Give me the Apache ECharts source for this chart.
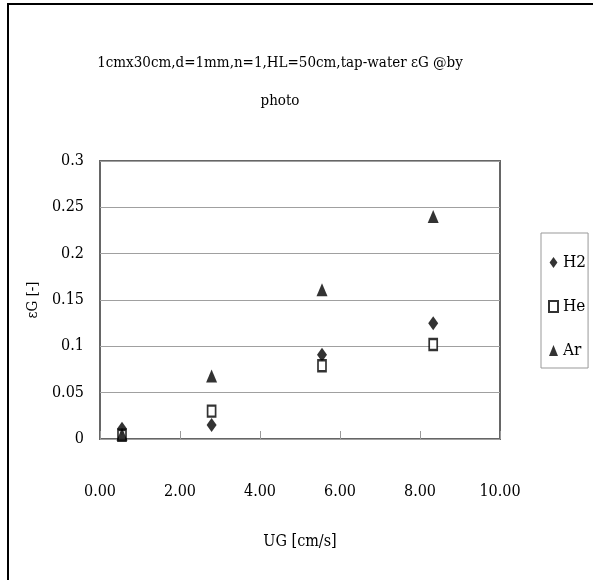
<!DOCTYPE html>
<html>
<head>
<meta charset="utf-8">
<script src="https://cdn.jsdelivr.net/npm/echarts@6/dist/echarts.min.js"></script>
<style>html,body{margin:0;padding:0;background:#fff}#c{width:593px;height:580px}</style>
</head>
<body>
<div id="c"></div>
<script>
const titleText = '1cmx30cm,d=1mm,n=1,HL=50cm,tap-water εG @by\nphoto';
const xName = 'UG [cm/s]';
const yName = 'εG [-]';
const xTicks = [0, 2, 4, 6, 8, 10];
const yTicks = [0, 0.05, 0.1, 0.15, 0.2, 0.25, 0.3];
const ugValues = [0.55, 2.79, 5.55, 8.33];
const h2Values = [0.011, 0.015, 0.091, 0.125];
const heValues = [0.004, 0.030, 0.079, 0.102];
const arValues = [0.005, 0.068, 0.161, 0.240];

const FONT = 'DejaVu Serif Condensed';
const chart = echarts.init(document.getElementById('c'));
const pair = (xs, ys) => xs.map((x, i) => [x, ys[i]]);
const diamond = 'path://M5,0 L10,7 L5,14 L0,7 Z';
const tri = 'path://M5,0 L10,12 L0,12 Z';

chart.setOption({
  animation: false,
  backgroundColor: '#fff',
  title: {
    text: titleText, top: 39, left: 275, textAlign: 'center',
    textStyle: { fontFamily: FONT, fontWeight: 'normal', fontSize: 15, color: '#000', lineHeight: 38 }
  },
  legend: {
    orient: 'vertical', left: 541, top: 233,
    padding: [21, 2, 9, 7], itemGap: 27, itemWidth: 9, itemHeight: 11,
    borderColor: '#999', borderWidth: 1,
    textStyle: { fontFamily: FONT, fontSize: 17, color: '#000', padding: [0, 0, 0, 0] },
    data: ['H2', 'He', 'Ar']
  },
  grid: {
    left: 100, top: 161, width: 400, height: 278,
    show: true, borderColor: '#666', borderWidth: 2, backgroundColor: '#fff'
  },
  xAxis: {
    type: 'value', min: 0, max: 10, interval: 2,
    name: xName, nameLocation: 'middle', nameGap: 95,
    nameTextStyle: { fontFamily: FONT, fontSize: 16, color: '#000' },
    axisLine: { show: false },
    axisTick: { show: true, inside: true, length: 8, lineStyle: { color: '#999' } },
    splitLine: { show: false },
    axisLabel: { margin: 45, fontFamily: FONT, fontSize: 16, color: '#000',
      formatter: v => xTicks.includes(v) ? v.toFixed(2) : '' }
  },
  yAxis: {
    type: 'value', min: 0, max: 0.3, interval: 0.05,
    name: yName, nameLocation: 'middle', nameGap: 56, nameRotate: 90,
    nameTextStyle: { fontFamily: FONT, fontSize: 15, color: '#000' },
    axisLine: { show: false },
    axisTick: { show: false },
    splitLine: { show: true, lineStyle: { color: '#a0a0a0', width: 1 } },
    axisLabel: { margin: 16, fontFamily: FONT, fontSize: 16, color: '#000',
      formatter: v => { const t = yTicks.find(k => Math.abs(k - v) < 1e-9); return t === undefined ? '' : String(t); } }
  },
  series: [
    { name: 'H2', type: 'scatter', symbol: diamond, symbolSize: [10, 14], z: 3,
      itemStyle: { color: '#000' }, data: pair(ugValues, h2Values) },
    { name: 'He', type: 'scatter', symbol: 'rect', symbolSize: [8, 11], z: 4,
      itemStyle: { color: '#fff', borderColor: '#000', borderWidth: 2 }, data: pair(ugValues, heValues) },
    { name: 'Ar', type: 'scatter', symbol: tri, symbolSize: [11, 13], z: 5,
      itemStyle: { color: '#000' }, data: pair(ugValues, arValues) }
  ],
  graphic: [
    { type: 'line', shape: { x1: 8, y1: 4, x2: 593, y2: 4 }, style: { stroke: '#000', lineWidth: 2 } },
    { type: 'line', shape: { x1: 8, y1: 3, x2: 8, y2: 580 }, style: { stroke: '#000', lineWidth: 2 } }
  ]
});
</script>
</body>
</html>
